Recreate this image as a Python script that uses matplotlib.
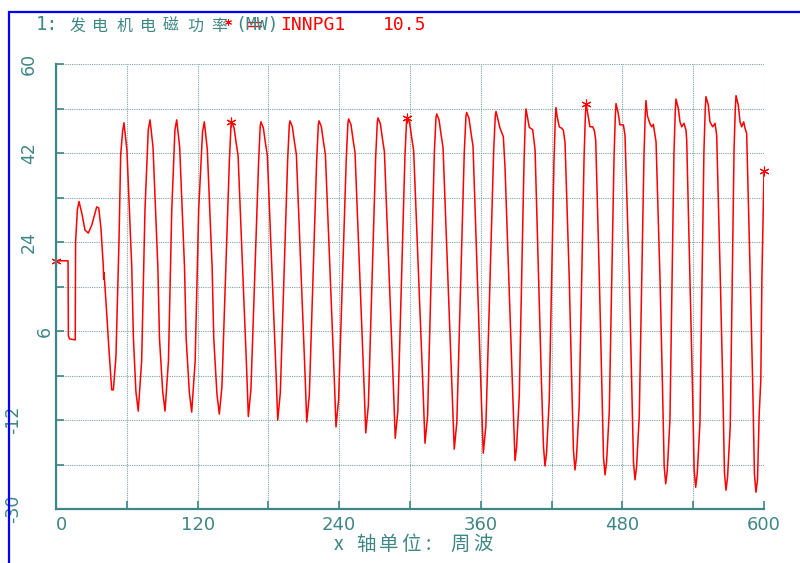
import matplotlib
matplotlib.use('Agg')
import matplotlib.pyplot as plt
import matplotlib.transforms as mtransforms
from matplotlib.lines import Line2D
from matplotlib.patches import Rectangle

# 发电机电磁功率 (MW) vs 周波
t = [0.0, 10.2, 10.5, 11.5, 16.3, 16.6, 18.1, 19.5, 21.8, 24.6, 27.4, 30.3, 32.2, 34.5,
     36.2, 38.1, 40.1, 40.4, 40.7, 42.4, 44.9, 47.2, 48.6, 50.8, 53.4, 54.8, 56.5, 57.6,
     60.1, 64.2, 65.6, 67.7, 69.7,
     72.6, 75.4, 78.2, 79.7, 82.2, 86.3, 87.7, 90.4, 92.4,
     95.3, 98.1, 100.8, 102.3, 104.8, 108.9, 110.3, 113.0, 115.0,
     117.9, 120.9, 124.2, 125.7, 128.2, 132.3, 133.7, 136.4, 138.4,
     140.6, 146.9, 148.3, 148.9, 150.9, 152.7, 154.3, 161.5, 163.0,
     165.2, 171.7, 173.1, 173.7, 175.7, 177.5, 179.1, 186.4, 187.9,
     190.1, 196.3, 197.7, 198.3, 200.3, 202.1, 203.7, 211.0, 212.5,
     214.7, 220.9, 222.3, 222.9, 224.9, 226.7, 228.3, 235.8, 237.3,
     239.5, 246.0, 247.4, 248.0, 250.0, 251.8, 253.4, 261.0, 262.5,
     264.7, 270.9, 272.3, 272.9, 274.9, 276.7, 278.3, 286.0, 287.5,
     289.7, 295.7, 297.1, 297.7, 299.7, 301.5, 303.1, 311.2, 312.7,
     314.9, 320.6, 322.0, 322.6, 324.6, 326.4, 328.0, 336.0, 337.5,
     339.7, 346.0, 347.4, 348.0, 350.0, 351.8, 353.4, 360.6, 362.1,
     364.3, 370.9, 372.3, 372.9, 376.3, 379.1, 380.5, 387.5, 389.0,
     390.3, 392.6, 396.6, 397.7, 398.3, 401.1, 404.0, 406.0, 411.4, 413.1, 414.4,
     415.7, 418.0, 422.0, 423.1, 423.7, 424.6, 426.5, 428.6, 430.0, 431.4, 435.0, 437.0, 438.5, 439.8,
     441.1, 443.4, 447.5, 448.6, 449.2, 451.1, 452.5, 454.8, 456.2, 457.4, 460.5, 462.5, 464.0, 465.3,
     466.6, 468.9, 472.9, 474.0, 474.6, 476.5, 477.9, 480.8, 482.2, 485.9, 487.9, 489.4, 490.7,
     492.0, 494.3, 498.3, 499.4, 500.0, 501.2, 503.4, 504.8, 506.2, 508.5, 511.9, 513.9, 515.4, 516.7,
     518.0, 520.3, 523.7, 524.8, 525.4, 527.4, 528.8, 530.3, 532.2, 533.9, 534.5, 537.3, 539.3, 540.8, 542.1,
     543.4, 545.7, 549.1, 550.2, 550.8, 552.8, 554.2, 556.5, 558.5, 559.3, 559.9, 563.0, 565.0, 566.5, 567.8,
     569.1, 571.4, 574.6, 575.7, 576.3, 578.2, 579.7, 581.1, 582.8, 583.9, 585.3, 588.4, 590.4, 591.9, 593.2,
     594.5, 595.9, 597.3, 598.2, 600.0]
p = [20.2, 20.2, 5.0, 4.4, 4.2, 24.0, 30.5, 32.2, 29.9, 26.4, 25.8, 27.4, 29.1, 31.1,
     30.9, 26.8, 19.0, 16.5, 17.8, 11.7, 2.2, -5.9, -5.9, 0.8, 24.4, 41.6, 46.5, 48.1,
     42.6, 19.0, 4.5, -6.2, -10.2,
     0.0, 30.5, 46.7, 48.7, 43.2, 19.0, 4.5, -6.2, -10.2,
     0.0, 30.5, 46.7, 48.7, 43.2, 19.0, 4.5, -6.4, -10.4,
     -0.2, 30.5, 46.3, 48.3, 42.8, 19.0, 4.5, -6.8, -10.8,
     -5.3, 40.3, 47.5, 48.3, 47.1, 44.0, 41.5, -1.3, -11.3,
     -5.8, 40.3, 47.5, 48.3, 47.1, 44.0, 41.5, -2.0, -12.0,
     -6.5, 40.5, 47.7, 48.5, 47.3, 44.2, 41.7, -2.4, -12.4,
     -6.9, 40.5, 47.7, 48.5, 47.3, 44.2, 41.7, -3.4, -13.4,
     -7.9, 40.9, 48.1, 48.9, 47.7, 44.6, 42.1, -4.6, -14.6,
     -9.1, 41.1, 48.3, 49.1, 47.9, 44.8, 42.3, -5.7, -15.7,
     -10.2, 41.3, 48.5, 49.3, 48.1, 45.0, 42.5, -6.7, -16.7,
     -11.2, 41.9, 49.1, 49.9, 48.7, 45.6, 43.1, -7.9, -17.9,
     -12.4, 42.2, 49.4, 50.2, 49.0, 45.9, 43.4, -8.7, -18.7,
     -13.2, 42.4, 49.6, 50.4, 47.0, 45.3, 39.2, -10.2, -20.2,
     -17.6, -7.2, 39.9, 48.4, 50.9, 47.2, 46.7, 42.6, -4.3, -17.3, -21.3,
     -18.7, -8.0, 40.2, 48.7, 51.2, 49.5, 47.3, 47.0, 46.6, 44.0, 16.3, -3.9, -18.0, -22.1,
     -19.5, -9.1, 41.0, 49.5, 52.0, 49.3, 47.3, 47.3, 46.6, 44.6, 16.3, -4.5, -19.6, -23.1,
     -20.5, -10.1, 41.0, 49.5, 52.0, 50.0, 47.7, 47.7, 45.6, 16.3, -4.5, -20.6, -24.1,
     -21.5, -11.1, 41.6, 50.1, 52.6, 49.5, 47.9, 47.3, 47.8, 44.3, 16.3, -4.5, -21.4, -24.9,
     -22.3, -11.9, 41.9, 50.4, 52.9, 51.0, 48.3, 47.3, 48.0, 46.6, 44.6, 16.3, -4.5, -22.1, -25.6,
     -23.0, -12.6, 42.4, 50.9, 53.4, 51.7, 48.3, 47.3, 48.0, 46.6, 45.6, 16.3, -4.5, -22.7, -26.2,
     -23.6, -13.2, 42.6, 51.1, 53.6, 51.7, 48.3, 47.3, 48.3, 47.0, 46.0, 16.3, -4.5, -23.0, -26.6,
     -24.1, -11.0, -3.9, 16.3, 38.4]

# asterisk markers along the curve
star_t = [0.0, 148.0, 297.7, 449.2, 600.0]
star_p = [20.2, 48.3, 49.0, 52.0, 38.4]

x_ticks = [0, 60, 120, 180, 240, 300, 360, 420, 480, 540, 600]
x_labels = ['0', '', '120', '', '240', '', '360', '', '480', '', '600']
y_ticks = [-30, -21, -12, -3, 6, 15, 24, 33, 42, 51, 60]
y_labels = [60, 42, 24, 6, -12, -30]

teal = '#3f8686'
red = '#ff0000'
cjk = ['Noto Sans CJK SC', 'DejaVu Sans']
W, H = 800, 563

fig = plt.figure(figsize=(8, 5.63), dpi=100)
ax = fig.add_axes([56 / W, 1 - 509 / H, 708 / W, 445 / H])

ax.plot(t, p, color=red, lw=1.1)
ax.plot(star_t, star_p, ls='none', marker=(6, 2, 0), ms=7, mec=red, mew=0.8, clip_on=False)

ax.set_xlim(0, 600)
ax.set_ylim(-30, 60)
ax.set_xticks(x_ticks)
ax.set_xticklabels(x_labels)
ax.set_yticks(y_ticks)
ax.set_yticklabels([])
ax.get_xticklabels()[0].set_ha('left')
ax.tick_params(direction='in', length=6, width=1.2, color=teal,
               labelsize=13, labelcolor=teal, pad=5)
ax.grid(True, color='#7aa6a6', ls=(0, (1, 1)), lw=0.8)
for s in ['top', 'right']:
    ax.spines[s].set_visible(False)
for s in ['left', 'bottom']:
    ax.spines[s].set_color(teal)
    ax.spines[s].set_linewidth(1.6)

# rotated y labels, shifted left by length like the original screen
trans = mtransforms.blended_transform_factory(fig.transFigure, ax.transData)
for v in y_labels:
    s = str(v)
    ax.text((61 - 16 * len(s)) / W, v, s, transform=trans, rotation=90,
            ha='center', va='center', fontsize=12.5, color=teal)

# x axis caption, spaced out like the screen font
xl_y = 1 - 544.5 / H
for ch, cx in zip(['x', '轴', '单', '位', ':', '周', '波'],
                  [339, 366, 389, 411, 428, 460, 483]):
    fig.text(cx / W, xl_y, ch, ha='center', va='center', fontsize=14,
             color=teal, family=cjk)

# title line
ty = 1 - 24.5 / H
fig.text(35.5 / W, ty, '1:', ha='left', va='center', fontsize=13.5,
         color=teal, family='DejaVu Sans Mono')
for ch, cx in zip('发电机电磁功率', [77.5, 100.5, 124.5, 148, 170.5, 195.5, 219]):
    fig.text(cx / W, 1 - 26 / H, ch, ha='center', va='center', fontsize=11.5,
             color=teal, family=cjk)
fig.add_artist(Line2D([228 / W], [1 - 22 / H], marker=(6, 2, 0), ms=5,
                      mec=red, mew=0.7, ls='none'))
fig.text(235 / W, ty, '(MW)', ha='left', va='center', fontsize=13,
         color=teal, family='DejaVu Sans Mono')
for yy in [21.5, 25.5]:
    fig.add_artist(Line2D([248 / W, 261 / W], [1 - yy / H, 1 - yy / H], color=red, lw=1))
fig.text(280 / W, ty, 'INNPG1', ha='left', va='center', fontsize=13,
         color=red, family='DejaVu Sans Mono')
fig.text(383 / W, ty, '10.5', ha='left', va='center', fontsize=13,
         color=red, family='DejaVu Sans Mono')

# blue window frame
fig.add_artist(Rectangle((9 / W, -0.05), 1.2, 1 - 12 / H + 0.05, fill=False,
                         edgecolor='#0000ff', lw=1.6, transform=fig.transFigure))

fig.savefig('out.png', dpi=100)
